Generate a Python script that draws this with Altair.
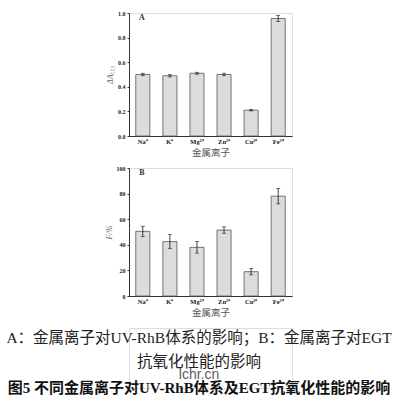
import altair as alt
import pandas as pd

ions = ["Na⁺", "K⁺", "Mg²⁺", "Zn²⁺", "Cu²⁺", "Fe³⁺"]
vals_a = [0.50, 0.49, 0.51, 0.50, 0.21, 0.955]
errs_a = [0.010, 0.010, 0.008, 0.010, 0.006, 0.025]
vals_b = [50.5, 42.5, 38.0, 51.5, 19.0, 78.0]
errs_b = [4.0, 5.5, 4.5, 2.5, 2.5, 6.0]
ticks_a = [0.0, 0.2, 0.4, 0.6, 0.8, 1.0]
ticks_b = [0, 20, 40, 60, 80, 100]
xtitle = "金属离子"
caption1 = "A：金属离子对UV-RhB体系的影响；B：金属离子对EGT"
caption2 = "抗氧化性能的影响"
caption3 = "图5 不同金属离子对UV-RhB体系及EGT抗氧化性能的影响"
watermark = "lchr.cn"

SERIF = "Liberation Serif"
CJK = "Liberation Serif, Noto Sans CJK SC"


def panel(vals, errs, ymax, tvals, fmt, ytitle, letter, h):
    df = pd.DataFrame({"ion": ions, "v": vals, "e": errs})
    base = alt.Chart(df).transform_calculate(
        lo="datum.v - datum.e", hi="datum.v + datum.e"
    )
    xs = alt.Scale(paddingInner=0.48, paddingOuter=0.25)
    x = alt.X(
        "ion:N",
        sort=ions,
        scale=xs,
        axis=alt.Axis(
            title=xtitle,
            labelAngle=0,
            ticks=False,
            labelPadding=2,
            titlePadding=3,
            labelFont=SERIF,
            labelFontWeight="bold",
            labelFontSize=6.5,
            labelColor="#222",
            titleFont="Noto Sans CJK SC",
            titleFontWeight="normal",
            titleFontSize=9.5,
            titleColor="#555",
            domainColor="#333",
            domainWidth=1,
        ),
    )
    y = alt.Y(
        "v:Q",
        scale=alt.Scale(domain=[0, ymax], nice=False),
        axis=alt.Axis(
            values=tvals,
            tickCount=20,
            format=fmt,
            title=ytitle,
            grid=False,
            tickSize=2,
            tickColor="#333",
            labelOverlap=False,
            labelFlush=False,
            labelPadding=2,
            titlePadding=3,
            labelFont=SERIF,
            labelFontWeight="bold",
            labelFontSize=6,
            labelColor="#222",
            titleFont=SERIF,
            titleFontStyle="italic",
            titleFontWeight="normal",
            titleFontSize=8,
            titleColor="#666",
            domainColor="#333",
            domainWidth=1,
        ),
    )
    bars = base.mark_bar(fill="#dcdcdc", stroke="#555", strokeWidth=0.8).encode(
        x=x, y=y
    )
    xe = alt.X("ion:N", sort=ions, scale=xs)
    rule = base.mark_rule(color="#111", strokeWidth=0.8).encode(
        x=xe, y="lo:Q", y2="hi:Q"
    )
    cap_lo = base.mark_tick(color="#111", size=4, thickness=0.8).encode(
        x=xe, y="lo:Q"
    )
    cap_hi = base.mark_tick(color="#111", size=4, thickness=0.8).encode(
        x=xe, y="hi:Q"
    )
    lab = (
        alt.Chart(alt.Data(values=[{"t": letter}]))
        .mark_text(font=SERIF, fontWeight="bold", fontSize=8, color="#333")
        .encode(x=alt.value(13), y=alt.value(5), text="t:N")
    )
    return (bars + rule + cap_lo + cap_hi + lab).properties(width=163, height=h)


pa = panel(vals_a, errs_a, 1.0, ticks_a, ".1f", "ΔA₅₅₃", "A", 123)
pb = panel(vals_b, errs_b, 100, ticks_b, "d", "F/%", "B", 128)

one = alt.Data(values=[{"a": 1}])
c1 = alt.Chart(one).mark_text(font=CJK, fontSize=15.5, color="#222").encode(
    x=alt.value(70), y=alt.value(10), text=alt.value(caption1)
)
c2 = alt.Chart(one).mark_text(font=CJK, fontSize=15.5, color="#222").encode(
    x=alt.value(70), y=alt.value(34), text=alt.value(caption2)
)
wm = alt.Chart(one).mark_text(
    font="Liberation Sans", fontSize=14, color="#333", opacity=0.8
).encode(x=alt.value(70), y=alt.value(47), text=alt.value(watermark))
c3 = alt.Chart(one).mark_text(
    font=CJK, fontSize=15, fontWeight="bold", color="#111"
).encode(x=alt.value(70), y=alt.value(60), text=alt.value(caption3))
cap = (c1 + c2 + wm + c3).properties(width=163, height=60)

chart = (
    alt.vconcat(pa, pb, cap, spacing=32, bounds="flush")
    .properties(padding={"left": 5, "top": 9, "right": 3, "bottom": 2})
    .configure_view(stroke=None)
    .configure(background="white")
)

chart.save("out.html", embed_options={"renderer": "svg", "actions": False})
